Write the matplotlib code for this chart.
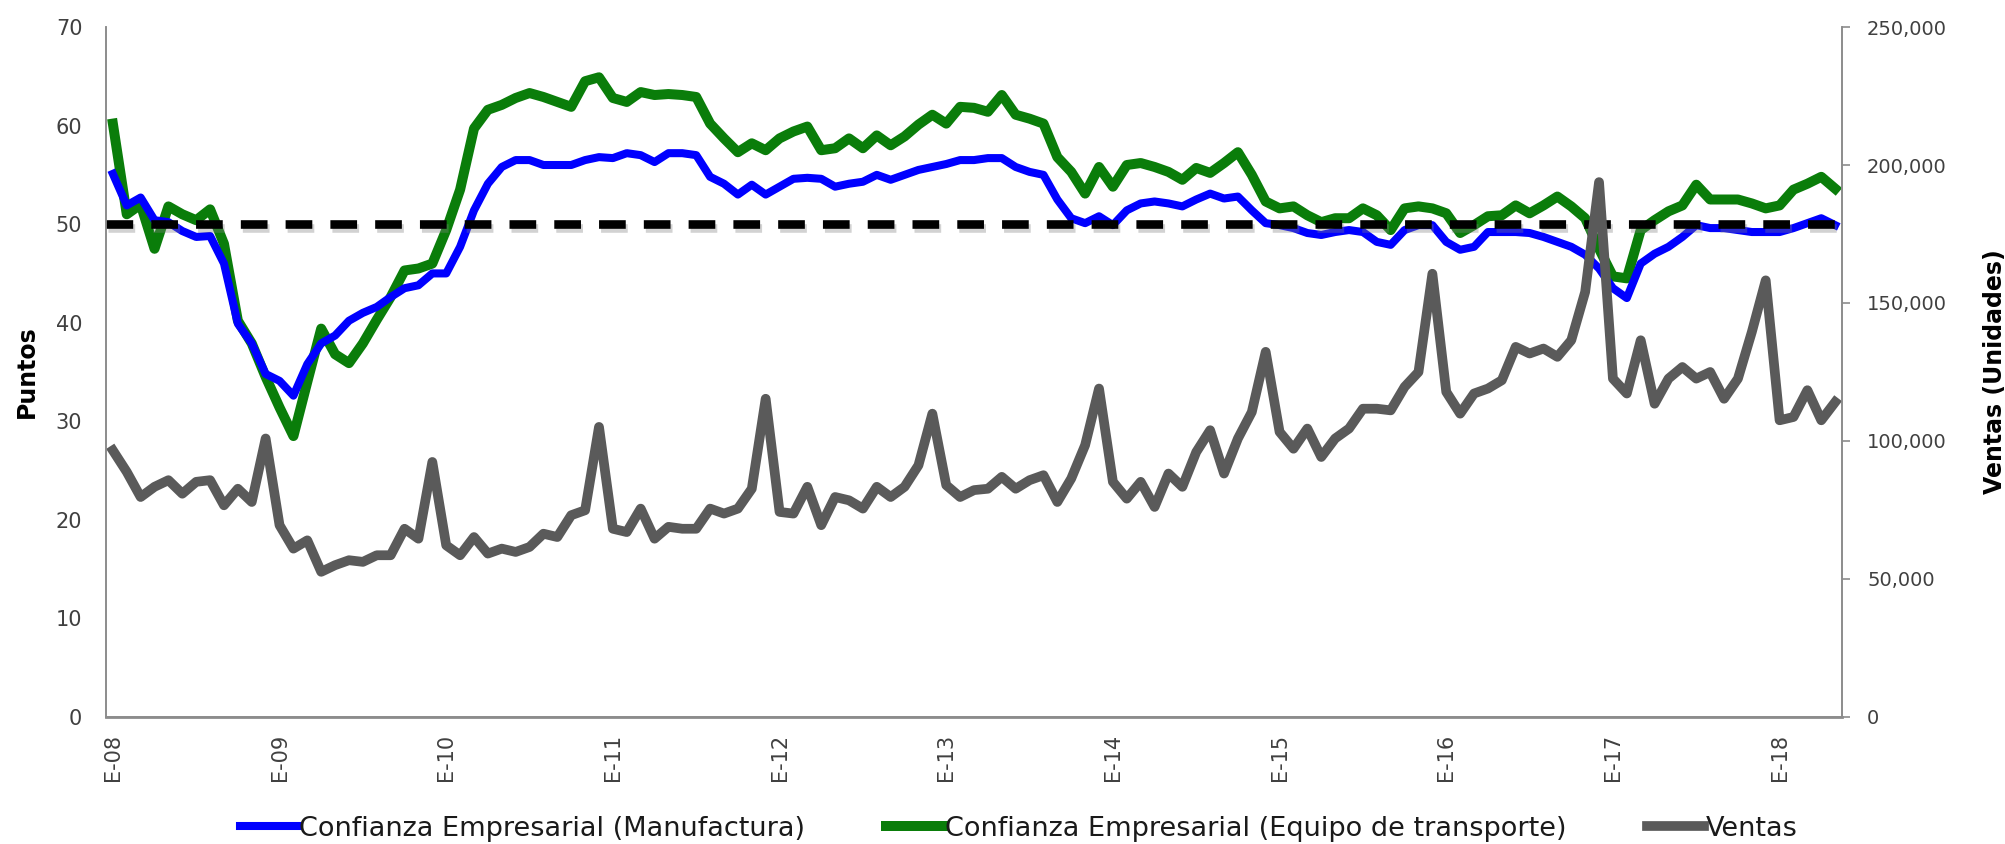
import numpy as np
import matplotlib
matplotlib.use("Agg")
import matplotlib.pyplot as plt
import matplotlib.patheffects as pe
from matplotlib.ticker import FuncFormatter

# ---------------- data ----------------
years = ["08", "09", "10", "11", "12", "13", "14", "15", "16", "17", "18"]
tick_labels = ["E-" + y for y in years]

manufactura = [
    55.1, 51.9, 52.7, 50.4, 50.2, 49.3, 48.7, 48.8, 46.0, 39.9, 37.9, 34.8,
    34.1, 32.6, 35.8, 37.9, 38.7, 40.2, 41.0, 41.6, 42.6, 43.5, 43.8, 45.0,
    45.0, 47.7, 51.4, 54.1, 55.8, 56.5, 56.5, 56.0, 56.0, 56.0, 56.5, 56.8,
    56.7, 57.2, 57.0, 56.3, 57.2, 57.2, 57.0, 54.8, 54.1, 53.0, 54.0, 53.0,
    53.8, 54.6, 54.7, 54.6, 53.8, 54.1, 54.3, 55.0, 54.5, 55.0, 55.5, 55.8,
    56.1, 56.5, 56.5, 56.7, 56.7, 55.8, 55.3, 55.0, 52.5, 50.6, 50.1, 50.8,
    49.9, 51.4, 52.1, 52.3, 52.1, 51.8, 52.5, 53.1, 52.6, 52.8, 51.4, 50.1,
    49.9, 49.6, 49.1, 48.9, 49.2, 49.4, 49.2, 48.2, 47.9, 49.4, 49.9, 49.9,
    48.2, 47.4, 47.7, 49.2, 49.2, 49.2, 49.1, 48.7, 48.2, 47.7, 46.9, 45.5,
    43.5, 42.5, 46.0, 47.0, 47.7, 48.7, 49.9, 49.6, 49.6, 49.4, 49.2, 49.2,
    49.2, 49.6, 50.1, 50.6, 49.9,
]

transporte = [
    60.2, 51.0, 52.0, 47.5, 51.8, 51.0, 50.4, 51.5, 48.0, 40.2, 37.9, 34.5,
    31.4, 28.5, 34.0, 39.4, 36.8, 35.9, 37.9, 40.3, 42.6, 45.3, 45.5, 46.0,
    49.4, 53.5, 59.7, 61.6, 62.1, 62.8, 63.3, 62.9, 62.4, 61.9, 64.5, 64.9,
    62.8, 62.4, 63.4, 63.1, 63.2, 63.1, 62.9, 60.2, 58.7, 57.3, 58.2, 57.5,
    58.7, 59.4, 59.9, 57.5, 57.7, 58.7, 57.7, 59.0, 58.0, 58.9, 60.1, 61.1,
    60.2, 61.9, 61.8, 61.4, 63.1, 61.1, 60.7, 60.2, 56.8, 55.3, 53.1, 55.8,
    53.8, 56.0, 56.2, 55.8, 55.3, 54.5, 55.7, 55.2, 56.2, 57.3, 55.0, 52.3,
    51.6, 51.8, 50.9, 50.2, 50.6, 50.6, 51.6, 50.9, 49.4, 51.6, 51.8, 51.6,
    51.1, 49.1, 49.9, 50.8, 50.9, 51.9, 51.1, 51.9, 52.8, 51.8, 50.6, 47.5,
    44.7, 44.5, 49.4, 50.4, 51.3, 51.9, 54.0, 52.5, 52.5, 52.5, 52.1, 51.6,
    51.9, 53.5, 54.1, 54.8, 53.6,
]

ventas = [
    96600, 88800, 79700, 83400, 85800, 80900, 85200, 85800, 76700, 82700, 77900, 100900,
    69500, 61000, 64000, 52600, 55000, 56800, 56200, 58600, 58600, 68200, 64600, 92400,
    62200, 58600, 65200, 59200, 61000, 59800, 61600, 66400, 65200, 73100, 74900, 105100,
    68200, 67000, 75500, 64600, 68900, 68200, 68200, 75500, 73700, 75500, 82700, 115300,
    74300, 73700, 83400, 69500, 79700, 78500, 75500, 83400, 79700, 83400, 91200, 109900,
    84000, 79700, 82200, 82700, 87000, 82700, 85800, 87600, 77900, 86400, 98500, 119000,
    85200, 79100, 85200, 76100, 88200, 83400, 96000, 103900, 88200, 100900, 110500, 132300,
    103300, 97200, 104500, 94200, 100900, 104500, 111700, 111700, 111100, 119600, 125000, 160600,
    117800, 109900, 117200, 119000, 122000, 134100, 131700, 133500, 130500, 136500, 154000, 193800,
    122600, 117200, 136500, 113500, 122600, 126800, 122600, 125000, 115300, 122600, 139500, 158200,
    107500, 108700, 118400, 107500, 114100,
]

umbral = 50

label_manu = "Confianza Empresarial (Manufactura)"
label_trans = "Confianza Empresarial (Equipo de transporte)"
label_ventas = "Ventas"

# ---------------- style ----------------
plt.rcParams["font.family"] = ["DejaVu Sans"]

fig = plt.figure(figsize=(20.06, 8.44), dpi=100)
ax = fig.add_axes([0.0528, 0.1505, 0.8655, 0.8175])
ax2 = ax.twinx()

x = np.arange(len(manufactura))

l1, = ax.plot(x, manufactura, color="#0000FF", lw=5.8, solid_joinstyle="round",
              label=label_manu, zorder=3)
l2, = ax.plot(x, transporte, color="#0A7D0A", lw=7.2, solid_joinstyle="round",
              label=label_trans, zorder=2)
ax.axhline(umbral, color="black", lw=6.2, dashes=(3.1, 2.1), zorder=4,
           path_effects=[pe.SimpleLineShadow(offset=(1.5, -2.5), shadow_color="#808080",
                                             alpha=0.35), pe.Normal()])
l3, = ax2.plot(x, ventas, color="#5A5A5A", lw=7.0, solid_joinstyle="round",
               label=label_ventas)

ax.set_xlim(-0.5, len(x) - 0.5)
ax.set_ylim(0, 70)
ax.set_yticks(np.arange(0, 71, 10))
ax2.set_ylim(0, 250000)
ax2.set_yticks(np.arange(0, 250001, 50000))
ax2.yaxis.set_major_formatter(FuncFormatter(lambda v, p: f"{int(v):,}"))

ax.set_xticks(np.arange(0, len(x), 12))
ax.set_xticklabels(tick_labels, rotation=90)

spine_col = "#8C8C8C"
for a in (ax, ax2):
    a.spines["top"].set_visible(False)
    for s in ("left", "right", "bottom"):
        a.spines[s].set_color(spine_col)
        a.spines[s].set_linewidth(1.2)
ax.spines["bottom"].set_linewidth(2.0)

ax.tick_params(axis="y", length=0, pad=17, labelsize=15, labelcolor="#404040")
ax.tick_params(axis="x", length=0, pad=12, labelsize=15, labelcolor="#404040")
ax2.tick_params(axis="y", length=6, width=1.2, color=spine_col, pad=12,
                labelsize=14, labelcolor="#404040")

ax.set_ylabel("Puntos", fontsize=17, fontweight="bold", labelpad=12)
ax2.set_ylabel("Ventas (Unidades)", fontsize=17, fontweight="bold", labelpad=26)

leg = fig.legend(handles=[l1, l2, l3], loc="center", bbox_to_anchor=(0.508, 0.018),
                 ncol=3, frameon=False, fontsize=19.5, handlelength=2.1,
                 handletextpad=0.07, columnspacing=3.0)
for t in leg.get_texts():
    t.set_color("#1a1a1a")

fig.savefig("out.png", dpi=100, facecolor="white")
